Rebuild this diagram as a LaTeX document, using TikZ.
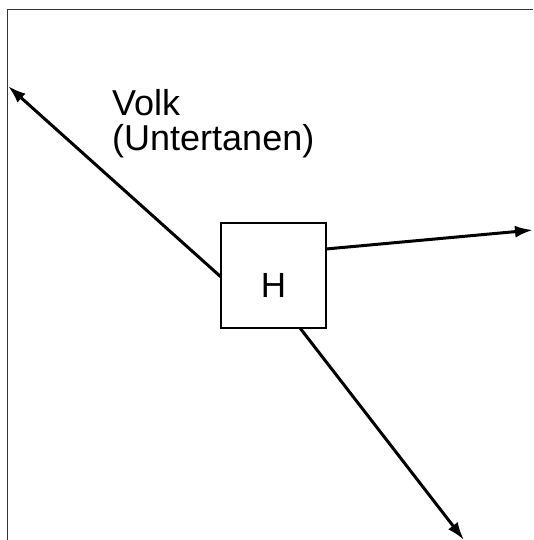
\documentclass[tikz,border=0pt]{standalone}
\usepackage{fontspec}
\setmainfont{Liberation Sans}
\usetikzlibrary{arrows.meta}
\begin{document}
\begin{tikzpicture}[x=1pt,y=-1pt,
  frameline/.style={line width=1.5pt,draw=black!80},
  hbox/.style={draw,line width=1.1pt,minimum width=105pt,minimum height=105pt,inner sep=0pt,font=\fontsize{35}{40}\selectfont},
  arr/.style={line width=3pt,-{Latex[length=18pt,width=12pt]}},
  lbl/.style={font=\fontsize{36}{35}\selectfont,align=left,inner sep=0pt,anchor=north west}]
\useasboundingbox (0,0) rectangle (533,540);
\draw[frameline] (7.5,540) -- (7.5,9.5) -- (533,9.5);
\node[hbox] (H) at (273.5,275.5) {\raisebox{-22pt}[0pt][0pt]{H}};
\coordinate (tl) at (8,86);
\coordinate (tr) at (533,230);
\coordinate (tb) at (464,540);
\draw[arr] (221,277) -- (tl);
\draw[arr] (326,249) -- (tr);
\draw[arr] (300,328) -- (tb);
\node[lbl] (volk) at (112,89) {Volk\\(Untertanen)};
\end{tikzpicture}
\end{document}
